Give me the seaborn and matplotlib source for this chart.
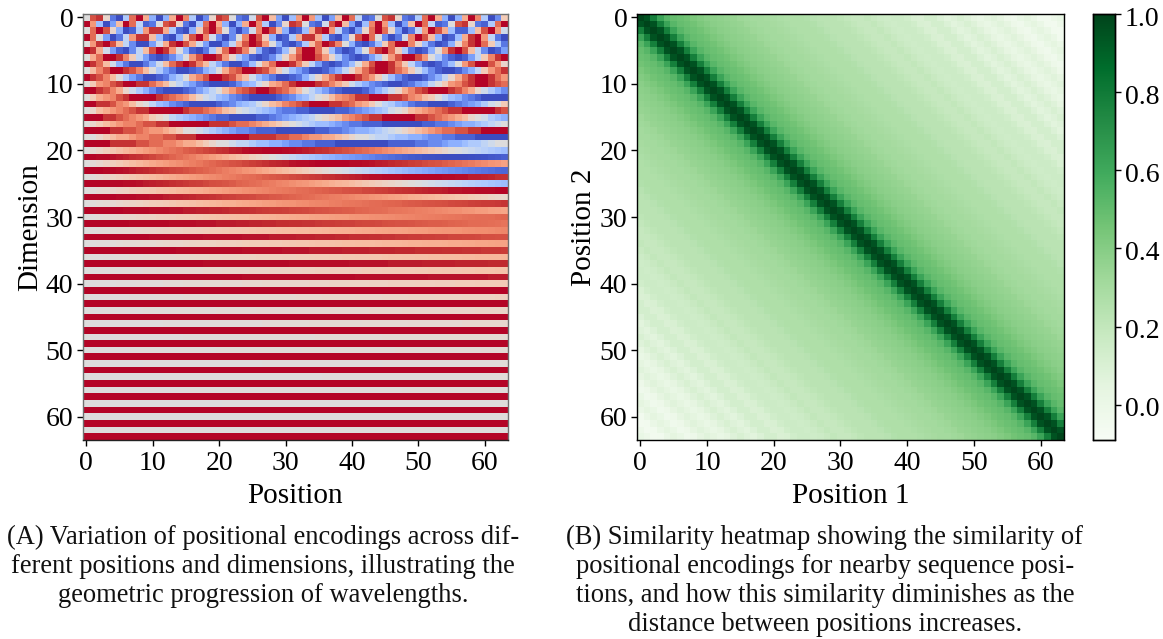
import numpy as np
import matplotlib
matplotlib.use("Agg")
import matplotlib.pyplot as plt
from matplotlib.transforms import ScaledTranslation
import seaborn as sns

plt.rcParams['font.family'] = ['Liberation Serif', 'DejaVu Serif']

W, H = 1163, 639

# Left panel, dimensions 0-19: one string per dimension, read cell by cell.
# Letters a..u stand for -1.0..1.0 in steps of 0.1.
fast_rows = [
    "kstlcahruofafouqhadltskcbjsuneagpupgaenuribckstlcbhruofafouqhadm",
    "upgaenuribckstlcahruofafouqhadltskcbjsuneagqupgaenuribckstlcbhru",
    "kruslfabhpttohbafmsuqkdadjqusnfabgotupicaelrurleacipusogbbgnsupj",
    "urkeacipttngbafmsuqjdadkqusmfabhottohbaelsurkdacjqusnfabgotupica",
    "kptusnidaaejotusojeaadiosutpkfbachnrutqkfbacgmruuqlgcabflqturmhc",
    "utojebadinsutpkfbachmrutqlfbacglruurmgcabfkqturmhcabfkptusnidabe",
    "koruutqmiebabdgkpsuutplhebabdhlpsuusplhdbabehlpsuuspkhdbabeimqtu",
    "utrnjfcaacfjnrtutqnifcaacgkoruutqmiebabdgkosuutqmiebabdgkpsuuspl",
    "knqsuutsqnkhecaabcfhkorsuutspmjgecaabdfilortuutrpmjgdbaabdfimprt",
    "utsqnkhecaabcfhkoqsuutspnjgecaabcfilortuutrpmjgdbaabdfilortuutrp",
    "kmpqstuuttrpnkigecbaaabdfgjloprtuuutsqomjhfdcbaabcefikmpqstuutsr",
    "uutsqoljhfdbaaabcegiknprstuutsrpnkigecbaaabdfhjloqstuuutsqoljhfd",
    "kmopqstuuuutsrqpnljigfdcbaaaabcdfgiklnpqrttuuuttsqpnmkigfdcbaaaa",
    "uuttsqpnlkigfdcbaaaabcdfghjlnoqrstuuuttsrpomkihfecbbaaabcdefhjkm",
    "klnopqrsttuuuuutssrqpnmkjihgfdccbbaaaabbcdefghjklnopqrsttuuuuuts",
    "uuuttsrqpomlkihgfedcbbaaaabbcdefghiklmnpqrsttuuuuuttsrqponlkjhgf",
    "klmnopqqrssttuuuuuutttsrrqponmlkjihggfedccbbbaaaaaabbccdeffghijk",
    "uuuuttssrqpponmkkjihgfeddcbbbaaaaaabbccdeffghijklmnopqrrssttuuuu",
    "kklmnoopqqrrsstttuuuuuuuuttttssrrqppoonmlkkjiihggffeddccbbbaaaaa",
    "uuuuttttssrrqqpoonmlkkjiihggffeddccbbbaaaaaaaabbbbccddeffghhijkk",
]

# Left panel, dimensions 20-63: values in percent; "v*n" means v repeated n times.
slow_rows = [
    "0 6 11 17 22 28 33 38 43 48 53 58 63 67 71 75 78 82 85 87 90 92 95 96 98 99 99 100 100 100 99 98 97 96 94 92 90 87 84 81 78 74 70 66 62 57 52 47 42 37 32 26 21 15 9 3 -2 -8 -14 -19 -25 -30 -35 -40",
    "100 100 99 99 97 96 94 92 90 88 85 81 78 74 70 66 62 57 53 48 43 38 32 27 22 16 11 5 0 -6 -11 -17 -23 -28 -33 -39 -44 -49 -54 -59 -63 -67 -71 -75 -79 -82 -85 -88 -91 -93 -95 -97 -98 -99 -100 -100 -100 -100 -99 -98 -97 -95 -93 -91",
    "0 4 8 13 17 21 25 29 33 37 41 45 48 52 55 59 62 65 69 72 75 77 80 82 85 87 89 91 93 94 95 97 98 98 99 100 100 100 100 100 99 99 98 97 96 95 93 92 90 88 86 83 81 79 76 73 70 67 64 60 57 53 50 46",
    "100 100 100 99 99 98 97 96 94 93 91 89 87 85 83 81 78 75 73 70 67 63 60 57 53 50 46 42 38 34 30 26 22 18 14 10 5 1 -3 -7 -12 -16 -20 -24 -28 -32 -36 -40 -44 -48 -51 -55 -58 -62 -65 -68 -71 -74 -77 -79 -82 -84 -87 -88",
    "0 3 6 9 13 16 19 22 25 28 31 34 37 40 43 46 49 51 54 57 59 62 64 67 69 71 73 76 78 79 81 83 85 86 88 89 91 92 93 94 95 96 97 98 98 99 99 99 100 100 100 100 100 100 99 99 98 98 96 96 95 94 92 91",
    "100 100 100 100 99 99 98 98 97 96 95 94 93 92 90 89 87 86 84 82 81 79 77 74 72 70 68 65 63 60 58 55 52 50 47 44 41 38 35 33 30 26 23 20 17 14 11 8 5 2 -1 -4 -8 -11 -14 -17 -20 -23 -26 -29 -32 -35 -38 -41",
    "0 2 5 7 9 12 14 17 19 21 23 26 28 30 33 35 37 39 41 44 46 48 50 52 54 56 58 60 62 64 65 67 69 70 72 74 75 77 78 80 81 82 84 85 86 87 89 90 91 92 93 94 95 95 96 97 97 98 98 99 99 99 100 100",
    "100 100 100 100 100 99 99 99 98 98 97 97 96 95 95 94 93 92 91 90 89 87 86 85 84 83 81 80 78 77 75 74 72 71 69 67 65 63 62 60 58 56 54 52 50 48 46 44 42 39 37 35 33 31 28 26 24 22 19 17 15 12 10 8",
    "0 2 4 5 7 9 11 12 14 16 18 19 21 23 25 26 28 30 32 33 35 37 38 40 42 43 45 47 48 50 52 53 55 56 58 59 60 62 63 65 66 67 68 70 71 72 73 74 76 77 78 79 80 81 82 83 84 85 86 87 88 88 89 90",
    "100 100 100 100 100 100 99 99 99 99 98 98 98 97 97 96 96 95 95 94 94 93 92 92 91 90 89 88 87 87 86 85 84 83 82 80 79 78 77 76 75 73 72 71 70 69 67 66 65 64 62 61 60 58 57 55 54 52 51 49 48 46 45 43",
    "0 1 3 4 5 7 8 9 11 12 13 15 16 17 19 20 21 22 24 25 26 28 29 30 31 33 34 35 36 38 39 40 41 42 44 45 46 47 48 49 51 52 53 54 55 56 57 58 59 60 61 62 63 64 65 66 67 68 69 70 70 71 72 73",
    "100 100 100 100 100 100 100 99 99 99 99 99 99 98 98 98 98 97 97 97 96 96 96 95 95 94 94 93 93 92 92 91 91 90 90 89 88 88 87 86 86 85 84 84 83 82 81 80 80 79 78 77 76 76 75 74 73 72 71 71 70 69 68 67",
    "0 1 2 3 4 5 6 7 8 9 10 11 12 13 14 15 16 17 18 19 20 21 22 23 24 25 26 27 28 29 30 31 32 32 33 34 35 36 37 38 39 40 41 42 43 44 45 45 46 47 48 49 50 51 52 52 53 54 55 56 56 57 58 59",
    "100*10 99*8 98*6 97*4 96*4 95*3 94*3 93*2 92*3 91*2 90*2 89*2 88*2 87*2 86*2 85*2 84*2 83 82*2 81*2",
    "0 1 2 2 3 4 5 5 6 7 7 8 9 10 10 11 12 13 13 14 15 16 16 17 18 19 19 20 21 21 22 23 24 24 25 26 26 27 28 29 29 30 31 31 32 33 33 34 35 36 36 37 38 38 39 40 40 41 42 43 43 44 45 45",
    "100*14 99*10 98*6 97*4 96*5 95*4 94*4 93*3 92*4 91*3 90*3 89*3 88",
    "0 1 1 2 2 3 3 4 4 5 6 6 7 7 8 8 9 10 10 11 11 12 12 13 13 14 15 15 16 16 17 17 18 18 19 20 20 21 21 22 22 23 23 24 24 25 26 26 27 27 28 28 29 29 30 30 31 32 32 33 33 34 34 35",
    "100*18 99*13 98*9 97*6 96*5 95*5 94*5 93*3",
    "0 0 1 1 2 2 3 3 3 4 4 5 5 5 6 6 7 7 8 8 8 9 9 10 10 11 11 11 12 12 13 13 13 14 14 15 15 16 16 16 17 17 18 18 18 19 19 20 20 20 21 21 22 22 23 23 23 24 24 25 25 25 26 26",
    "100*24 99*17 98*11 97*9 96*3",
    "0*2 1*3 2*3 3*4 4*3 5*3 6*3 7*3 8*3 9*4 10*3 11*3 12*3 13*3 14*3 15*4 16*3 17*3 18*3 19*3 20*2",
    "100*64",
    "0*3 1*4 2*4 3*4 4*4 5*5 6*4 7*4 8*4 9*5 10*4 11*4 12*4 13*4 14*5 15*2",
    "100*64",
    "0*3 1*6 2*5 3*6 4*6 5*5 6*6 7*6 8*5 9*6 10*5 11*5",
    "100*64",
    "0*4 1*8 2*7 3*8 4*7 5*8 6*7 7*8 8*7",
    "100*64",
    "0*5 1*10 2*10 3*10 4*10 5*10 6*9",
    "100*64",
    "0*7 1*13 2*13 3*14 4*13 5*4",
    "100*64",
    "0*9 1*18 2*18 3*19",
    "100*64",
    "0*12 1*24 2*24 3*4",
    "100*64",
    "0*16 1*32 2*16",
    "100*64",
    "0*21 1*43",
    "100*64",
    "0*28 1*36",
    "100*64",
    "0*38 1*26",
    "100*64",
]

# Right panel: similarity read along the first row, by distance between the two positions.
similarity_by_distance = [
    1.00, .95, .78, .62, .53, .49, .48, .46, .43, .41,
    .39, .38, .37, .36, .35, .33, .32, .31, .31, .30,
    .29, .28, .27, .27, .27, .26, .24, .23, .23, .23,
    .22, .20, .19, .19, .20, .18, .16, .15, .16, .16,
    .14, .11, .10, .13, .13, .09, .06, .08, .11, .08,
    .04, .02, .05, .07, .04, -.01, -.03, .02, .05, .01,
    -.04, -.05, -.01, .02,
]

tick_values = [0, 10, 20, 30, 40, 50, 60]
cbar_ticks = [0.0, 0.2, 0.4, 0.6, 0.8, 1.0]

caption_a = ["(A) Variation of positional encodings across dif-",
             "ferent positions and dimensions, illustrating the",
             "geometric progression of wavelengths."]
caption_b = ["(B) Similarity heatmap showing the similarity of",
             "positional encodings for nearby sequence posi-",
             "tions, and how this similarity diminishes as the",
             "distance between positions increases."]


def decode_fast(row):
    return [(ord(c) - ord('k')) / 10.0 for c in row]


def decode_slow(row):
    out = []
    for tok in row.split():
        v, _, n = tok.partition("*")
        out += [int(v) / 100.0] * (int(n) if n else 1)
    return out


decoded = [decode_fast(r) for r in fast_rows] + [decode_slow(r) for r in slow_rows]
bad = [(i, len(r)) for i, r in enumerate(decoded) if len(r) != 64]
if bad or len(decoded) != 64:
    raise SystemExit(f"rows={len(decoded)} bad={bad}")
encoding = np.array(decoded)

lookup = np.array(similarity_by_distance)
idx = np.arange(64)
similarity = lookup[np.abs(idx[:, None] - idx[None, :])]


def px_axes(fig, x0, y0, x1, y1):
    return fig.add_axes([x0 / W, 1 - y1 / H, (x1 - x0) / W, (y1 - y0) / H])


def shift_ylabels(fig, ax, dy_px):
    off = ScaledTranslation(0, -dy_px / fig.dpi, fig.dpi_scale_trans)
    for lab in ax.get_yticklabels():
        lab.set_transform(lab.get_transform() + off)


fig = plt.figure(figsize=(W / 100, H / 100), dpi=100)
ax_a = px_axes(fig, 83, 14, 508, 440)
ax_b = px_axes(fig, 637, 14, 1064, 440)
ax_c = px_axes(fig, 1093, 14, 1115, 440)

sns.heatmap(encoding, ax=ax_a, cmap="coolwarm", vmin=-1, vmax=1, cbar=False)
sns.heatmap(similarity, ax=ax_b, cmap="Greens", vmin=-0.09, vmax=1.0, cbar_ax=ax_c)

TICK = 20
LABEL = 21
for ax, xl, yl in [(ax_a, "Position", "Dimension"), (ax_b, "Position 1", "Position 2")]:
    pos = [v + 0.5 for v in tick_values]
    ax.set_xticks(pos, [str(v) for v in tick_values], rotation=0)
    ax.set_yticks(pos, [str(v) for v in tick_values], rotation=0)
    ax.tick_params(labelsize=TICK, length=4, width=1, pad=3, colors="black")
    ax.tick_params(axis="x", pad=4)
    ax.set_xlabel(xl, fontsize=LABEL, labelpad=5)
    ax.set_ylabel(yl, fontsize=LABEL, labelpad=2)
    for s in ax.spines.values():
        s.set_visible(True)
        s.set_linewidth(1.0)
    shift_ylabels(fig, ax, 3)
for name in ("top", "left", "right"):
    ax_a.spines[name].set_color("#707070")
ax_a.spines["bottom"].set_color("#222222")

ax_c.set_yticks(cbar_ticks, [f"{t:.1f}" for t in cbar_ticks])
ax_c.tick_params(labelsize=TICK, length=4, width=1, pad=3)
for s in ax_c.spines.values():
    s.set_visible(True)
    s.set_linewidth(1.0)
shift_ylabels(fig, ax_c, 2)

CAP = 19.1
for i, line in enumerate(caption_a):
    fig.text(263 / W, 1 - (537 + 29.3 * i) / H, line, ha="center", va="center", fontsize=CAP, color="#111111")
for i, line in enumerate(caption_b):
    fig.text(825 / W, 1 - (537 + 29.3 * i) / H, line, ha="center", va="center", fontsize=CAP, color="#111111")

fig.savefig("out.png", dpi=100)
